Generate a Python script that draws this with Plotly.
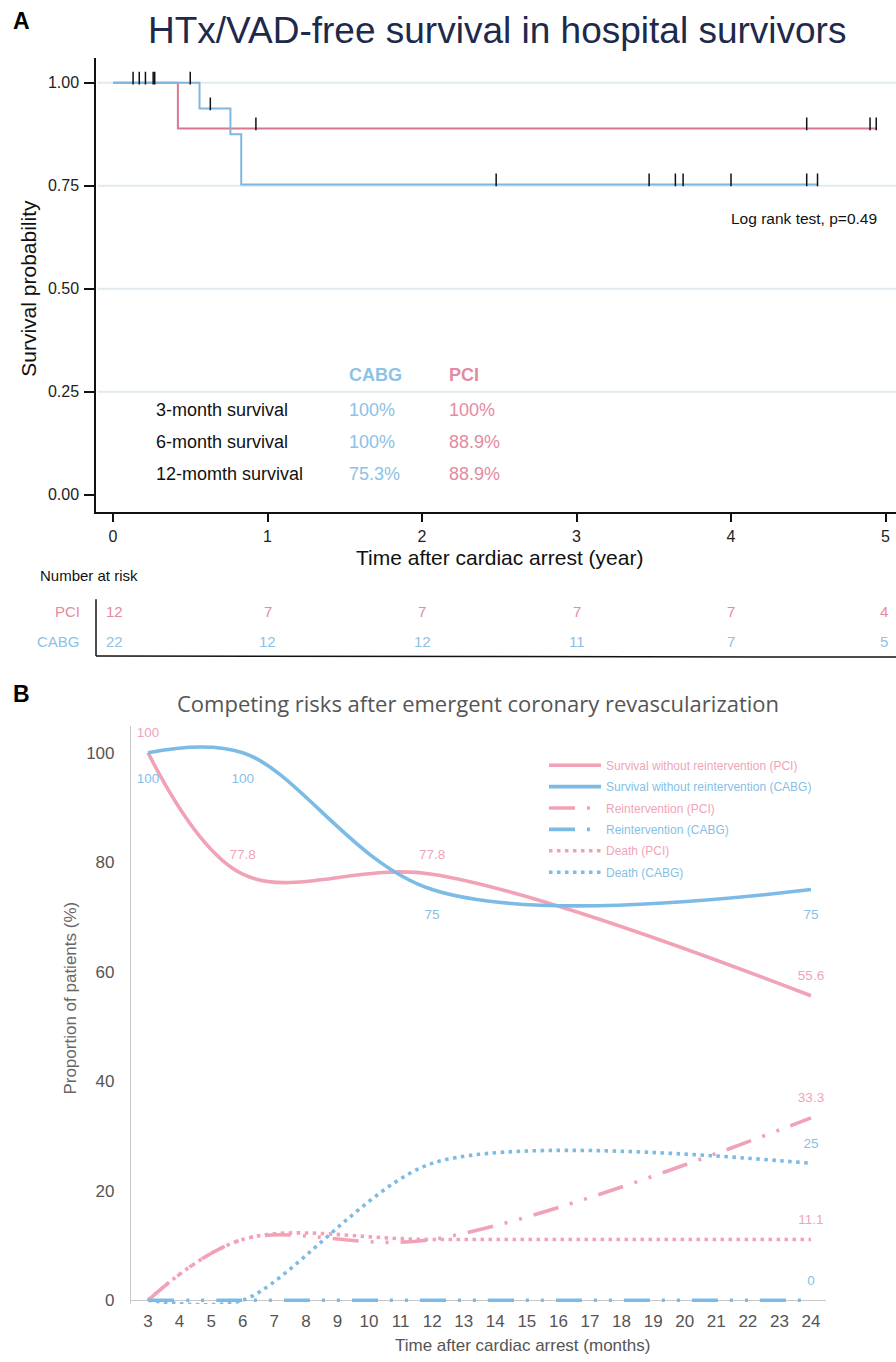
import plotly.graph_objects as go

W, H = 896, 1362

# ---------------- Panel A data ----------------
pci_t = [0, 0.42, 4.94]
pci_s = [1.0, 0.889, 0.889]
cabg_t = [0, 0.56, 0.76, 0.83, 4.56]
cabg_s = [1.0, 0.9375, 0.875, 0.753, 0.753]
pci_cens_t = [0.13, 0.21, 0.26, 0.925, 4.49, 4.90, 4.94]
pci_cens_s = [1.0, 1.0, 1.0, 0.889, 0.889, 0.889, 0.889]
cabg_cens_t = [0.17, 0.27, 0.50, 0.63, 2.48, 3.47, 3.64, 3.69, 4.00, 4.49, 4.56]
cabg_cens_s = [1.0, 1.0, 1.0, 0.9375, 0.753, 0.753, 0.753, 0.753, 0.753, 0.753, 0.753]
risk_years = [0, 1, 2, 3, 4, 5]
risk_pci = [12, 7, 7, 7, 7, 4]
risk_cabg = [22, 12, 12, 11, 7, 5]
a_yticks = [0, 0.25, 0.5, 0.75, 1.0]
a_ytext = ["0.00", "0.25", "0.50", "0.75", "1.00"]
a_grid = [0.25, 0.5, 0.75, 1.0]
tab_rows = ["3-month survival", "6-month survival", "12-momth survival"]
tab_cabg = ["100%", "100%", "75.3%"]
tab_pci = ["100%", "88.9%", "88.9%"]

# ---------------- Panel B data ----------------
months = [3, 6, 12, 24]
surv_pci = [100, 77.8, 77.8, 55.6]
surv_cabg = [100, 100, 75, 75]
reint_pci = [0, 11.1, 11.1, 33.3]
reint_cabg = [0, 0, 0, 0]
death_pci = [0, 11.1, 11.1, 11.1]
death_cabg = [0, 0, 25, 25]
b_xticks = list(range(3, 25))
b_yticks = [0, 20, 40, 60, 80, 100]

# colours
A_PINK = "#d6788f"
A_BLUE = "#7fb7df"
T_PINK = "#e58aa0"
T_BLUE = "#8cc2e6"
B_PINK = "#f2a2b6"
B_BLUE = "#7bbbe6"
B_TXT_PINK = "#f0a5b7"
B_TXT_BLUE = "#86bfe6"

ARIAL = "Liberation Sans, Arial, sans-serif"
LIGHT = "Open Sans, Noto Sans, sans-serif"


def px(x):
    return x / W


def py(y):
    return 1 - y / H


fig = go.Figure()

# ---- Panel A traces ----
fig.add_trace(go.Scatter(x=pci_t, y=pci_s, mode="lines", line=dict(shape="hv", color=A_PINK, width=2),
                         xaxis="x", yaxis="y", showlegend=False, hoverinfo="skip"))
fig.add_trace(go.Scatter(x=cabg_t, y=cabg_s, mode="lines", line=dict(shape="hv", color=A_BLUE, width=2),
                         xaxis="x", yaxis="y", showlegend=False, hoverinfo="skip"))
cens_off = 0.011
for ct, cs in [(pci_cens_t, pci_cens_s), (cabg_cens_t, cabg_cens_s)]:
    fig.add_trace(go.Scatter(x=ct, y=[s + cens_off for s in cs], mode="markers",
                             marker=dict(symbol="line-ns", size=9, line=dict(width=1.5, color="#111")),
                             xaxis="x", yaxis="y", showlegend=False, hoverinfo="skip"))

# ---- Panel B traces ----
def tname(txt, col):
    return "<span style='color:%s'>%s</span>" % (col, txt)

LDD = "26px,12px,3px,12px,3px,12px"
DOT = "3.5px,4.5px"
series = [
    ("Survival without reintervention (PCI)", surv_pci, B_PINK, "solid", B_TXT_PINK, 1.0),
    ("Survival without reintervention (CABG)", surv_cabg, B_BLUE, "solid", B_TXT_BLUE, 1.0),
    ("Reintervention (PCI)", reint_pci, B_PINK, LDD, B_TXT_PINK, 1.0),
    ("Reintervention (CABG)", reint_cabg, B_BLUE, LDD, B_TXT_BLUE, 1.0),
    ("Death (PCI)", death_pci, B_PINK, DOT, B_TXT_PINK, 1.0),
    ("Death (CABG)", death_cabg, B_BLUE, DOT, B_TXT_BLUE, 0.8),
]
for i, (nm, vals, col, dash, tcol, sm) in enumerate(series):
    fig.add_trace(go.Scatter(x=months, y=vals, mode="lines", name=tname(nm, tcol),
                             line=dict(shape="spline", smoothing=sm, color=col, width=3.6, dash=dash),
                             xaxis="x2", yaxis="y2", legendgroup="g%d" % i, hoverinfo="skip"))


def fmt(v):
    return "%g" % v


LBL = 13.5
CLEAR = "rgba(0,0,0,0)"


def labels(xs, ys, col, pos, msize):
    fig.add_trace(go.Scatter(x=xs, y=ys, mode="markers+text", text=[fmt(v) for v in ys],
                             textposition=pos, marker=dict(size=msize, color=CLEAR),
                             textfont=dict(size=LBL, color=col, family=ARIAL),
                             xaxis="x2", yaxis="y2", showlegend=False, cliponaxis=False,
                             hoverinfo="skip"))


labels(months, surv_pci, B_TXT_PINK, "top center", 18)
labels(months, surv_cabg, B_TXT_BLUE, "bottom center", 30)
for vals, tcol in [(reint_pci, B_TXT_PINK), (death_cabg, B_TXT_BLUE), (death_pci, B_TXT_PINK),
                   (reint_cabg, B_TXT_BLUE)]:
    labels(months[-1:], vals[-1:], tcol, "top center", 18)

# ---------------- layout ----------------
a_px0, a_ppu = 113.0, 154.5
b_ppu = (811.0 - 148.0) / 21.0
b_pxu = 5.5          # pixels per percent
b_below = 0.7        # small margin below zero so lines at 0 are not clipped

fig.update_layout(
    width=W, height=H, margin=dict(l=0, r=0, t=0, b=0),
    paper_bgcolor="white", plot_bgcolor="white",
    xaxis=dict(domain=[px(96), 1.0], range=[(96 - a_px0) / a_ppu, (896 - a_px0) / a_ppu],
               tickvals=risk_years, ticks="outside", ticklen=9, tickwidth=1.5, tickcolor="#111",
               showline=True, linecolor="#111", linewidth=1.5, showgrid=False, zeroline=False,
               tickfont=dict(family=ARIAL, size=16, color="#222"), anchor="y",
               ticklabeloverflow="allow"),
    yaxis=dict(domain=[py(514), py(58)], range=[-17 / 414, 1 + 25 / 414],
               tickvals=a_yticks, ticktext=a_ytext, ticks="outside", ticklen=10, tickwidth=1.5,
               tickcolor="#111", showline=True, linecolor="#111", linewidth=1.5, showgrid=False,
               zeroline=False, tickfont=dict(family=ARIAL, size=16, color="#222"), anchor="x",
               ticklabelstandoff=2),
    xaxis2=dict(domain=[px(131), px(826)], range=[3 - (148 - 131) / b_ppu, 24 + 15 / b_ppu],
                tickvals=b_xticks, ticks="", showline=False, showgrid=False, zeroline=False,
                tickfont=dict(family=ARIAL, size=17, color="#555"),
                anchor="y2", layer="below traces", ticklabelstandoff=5),
    yaxis2=dict(domain=[py(1306 + b_below * b_pxu), py(729)], range=[-b_below, 577 / b_pxu],
                tickvals=b_yticks, ticks="", showline=True, linecolor="#c8c8c8", linewidth=1.2,
                showgrid=False, zeroline=True, zerolinecolor="#c8c8c8", zerolinewidth=1.2,
                tickfont=dict(family=ARIAL, size=17, color="#555"), anchor="x2", layer="below traces",
                ticklabelstandoff=12),
    legend=dict(x=px(544), y=py(754), xanchor="left", yanchor="top", bgcolor="rgba(0,0,0,0)",
                font=dict(family=ARIAL, size=12), itemwidth=52, tracegroupgap=2.4,
                traceorder="grouped"),
    showlegend=True,
)

for g in a_grid:
    fig.add_shape(type="line", xref="x domain", yref="y", x0=0.002, x1=1, y0=g, y1=g,
                  line=dict(color="#e1eaee", width=2), layer="below")

ann = []


def A(text, x, y, size, color="#111", family=ARIAL, xanchor="center", yanchor="middle", angle=0):
    ann.append(dict(text=text, x=px(x), y=py(y), xref="paper", yref="paper", showarrow=False,
                    font=dict(family=family, size=size, color=color), xanchor=xanchor, yanchor=yanchor,
                    textangle=angle))


# panel A text
A("<b>A</b>", 11, 21, 23, "#000", xanchor="left")
A("HTx/VAD-free survival in hospital survivors", 497, 31, 37, "#1d2a4c")
A("Survival probability", 29, 290, 21, "#111", angle=-90)
A("Time after cardiac arrest (year)", 499, 560, 21, "#111")
A("Log rank test, p=0.49", 879, 219, 15.5, "#111", xanchor="right")
A("<b>CABG</b>", 347, 377, 18, T_BLUE, xanchor="left")
A("<b>PCI</b>", 447, 377, 18, T_PINK, xanchor="left")
for i, r in enumerate(tab_rows):
    yy = 412 + i * 32
    A(r, 154, yy, 18, "#111", xanchor="left")
    A(tab_cabg[i], 347, yy, 18, T_BLUE, xanchor="left")
    A(tab_pci[i], 447, yy, 18, T_PINK, xanchor="left")

# number at risk
A("Number at risk", 38, 578, 15, "#111", xanchor="left")
A("PCI", 82, 614, 15, T_PINK, xanchor="right")
A("CABG", 82, 644, 15, T_BLUE, xanchor="right")
for yr, n1, n2 in zip(risk_years, risk_pci, risk_cabg):
    xx = a_px0 + yr * a_ppu
    if yr == 0:
        xx += 2
    if yr == 5:
        xx -= 2
    A(str(n1), xx, 614, 15, T_PINK)
    A(str(n2), xx, 644, 15, T_BLUE)
fig.add_shape(type="line", xref="paper", yref="paper", x0=px(96), x1=px(96), y0=py(602), y1=py(659),
              line=dict(color="#111", width=1.5))
fig.add_shape(type="line", xref="paper", yref="paper", x0=px(96), x1=1, y0=py(659), y1=py(660),
              line=dict(color="#111", width=1.5))

# panel B text
A("<b>B</b>", 11, 697, 23, "#000", xanchor="left")
A("Competing risks after emergent coronary revascularization", 478, 706, 22, "#555", family=LIGHT)
A("Proportion of patients (%)", 71, 1003, 17, "#666", angle=-90)
A("Time after cardiac arrest (months)", 522, 1351, 17, "#555")

fig.update_layout(annotations=ann)

fig.write_html("out.html", config={"displayModeBar": False},
               post_script="document.body.style.margin='0px';document.body.style.overflow='hidden';")
